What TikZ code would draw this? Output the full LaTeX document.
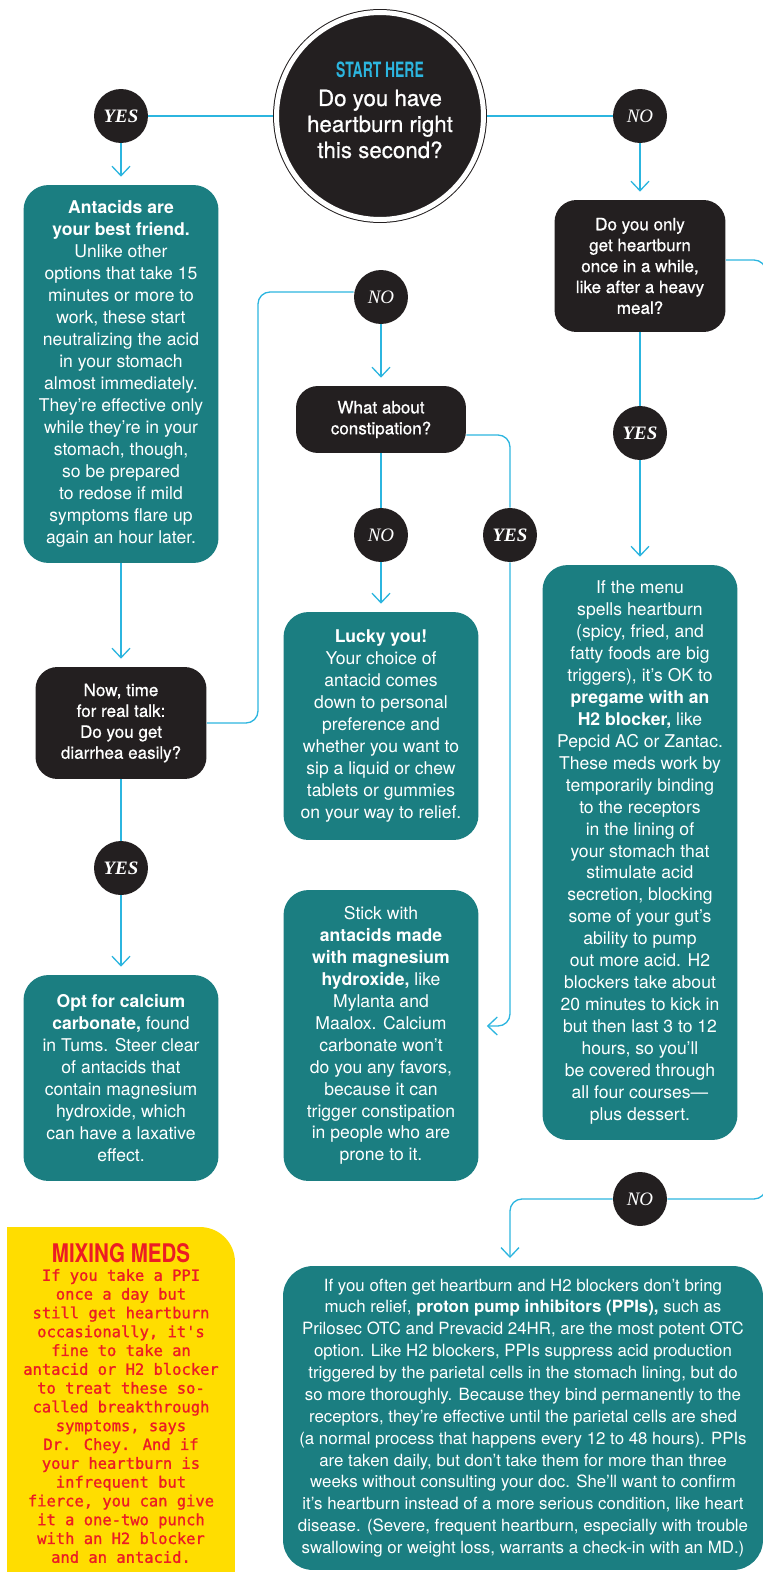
\documentclass[tikz,border=0pt]{standalone}
\usepackage{fontspec}
\setmainfont{TeX Gyre Heros}
\newfontfamily\medfont{TeX Gyre Heros}[FakeBold=0.7]
\newfontfamily\headfont{TeX Gyre Heros}[FakeStretch=0.66]
\newfontfamily\memohead{TeX Gyre Heros}[FakeStretch=0.8]
\newfontfamily\answerfont{Liberation Serif}
\newfontfamily\memofont{DejaVu Sans Mono}[FakeBold=1.2]
\usetikzlibrary{arrows.meta}

\definecolor{boxteal}{HTML}{1B7E81}
\definecolor{ink}{HTML}{231F20}
\definecolor{wire}{HTML}{2CB5DF}
\definecolor{memo}{HTML}{FFDD00}
\definecolor{memored}{HTML}{EC1C24}

\begin{document}
\begin{tikzpicture}[x=0.02cm,y=-0.02cm,
    info/.style={rectangle,rounded corners=0.5cm,fill=boxteal,text=white,
      inner sep=0pt,minimum width=3.9cm,align=center,
      font=\fontsize{10pt}{12.5pt}\selectfont},
    quest/.style={rectangle,rounded corners=0.44cm,fill=ink,text=white,
      inner sep=0pt,minimum width=3.42cm,align=center,
      font=\medfont\fontsize{9.7pt}{11.9pt}\selectfont},
    yesdot/.style={circle,fill=ink,text=white,inner sep=0pt,minimum size=1.08cm,
      font=\answerfont\bfseries\itshape\fontsize{10.8pt}{12pt}\selectfont},
    nodot/.style={yesdot,font=\answerfont\itshape\fontsize{10.8pt}{12pt}\selectfont},
    link/.style={draw=wire,line width=0.75pt},
    go/.style={link,-{Straight Barb[length=0.19cm,width=0.36cm]},shorten >=0.16cm}]

    \useasboundingbox (0,0) rectangle (763,1572);
    \clip (0,0) rectangle (763,1572);

    \node[circle,fill=ink,draw=ink,line width=0.02cm,double=white,double distance=0.1cm,
          minimum size=4.14cm,outer sep=0.07cm] (start) at (380,116) {};
    \node[text=wire,font=\headfont\bfseries\fontsize{12pt}{12pt}\selectfont] (starthead) at (380,70) {START HERE};
    \node[text=white,align=center,font=\medfont\fontsize{12.7pt}{14.8pt}\selectfont] (startq) at (380,124)
         {Do you have\\heartburn right\\this second?};

    \foreach \n/\x/\y in {yes1/121/116,yes2/640/433,yes3/510/535,yes4/121/868}
             {
               \node[yesdot] (\n) at (\x,\y) {YES};
             }
    \foreach \n/\x/\y in {no1/640/116,no2/381/297,no3/381/535,no4/640/1199}
             {
               \node[nodot] (\n) at (\x,\y) {NO};
             }

    \node[quest,minimum height=2.64cm] (onlyq) at (640,266)
         {Do you only\\get heartburn\\once in a while,\\like after a heavy\\meal?};
    \node[quest,minimum width=3.4cm,minimum height=1.34cm] (constq) at (381,419.5)
         {What about\\constipation?};
    \node[quest,minimum height=2.24cm] (nowq) at (121,723)
         {Now, time\\for real talk:\\Do you get\\diarrhea easily?};

    \node[info,minimum height=7.56cm] (antacids) at (121,374)
         {\textbf{Antacids are}\\\textbf{your best friend.}\\Unlike other\\options that take 15\\minutes or more to\\work, these start\\neutralizing the acid\\in your stomach\\almost immediately.\\They’re effective only\\while they’re in your\\stomach, though,\\so be prepared\\to redose if mild\\symptoms flare up\\again an hour later.};
    \node[info,minimum height=11.5cm] (h2box) at (640,852.5)
         {If the menu\\spells heartburn\\(spicy, fried, and\\fatty foods are big\\triggers), it’s OK to\\\textbf{pregame with an}\\\textbf{H2 blocker,} like\\Pepcid AC or Zantac.\\These meds work by\\temporarily binding\\to the receptors\\in the lining of\\your stomach that\\stimulate acid\\secretion, blocking\\some of your gut’s\\ability to pump\\out more acid. H2\\blockers take about\\20 minutes to kick in\\but then last 3 to 12\\hours, so you’ll\\be covered through\\all four courses—\\plus dessert.};
    \node[info,minimum height=4.56cm] (lucky) at (381,726)
         {\textbf{Lucky you!}\\Your choice of\\antacid comes\\down to personal\\preference and\\whether you want to\\sip a liquid or chew\\tablets or gummies\\on your way to relief.};
    \node[info,minimum height=5.82cm] (magnes) at (381,1035.5)
         {Stick with\\\textbf{antacids made}\\\textbf{with magnesium}\\\textbf{hydroxide,} like\\Mylanta and\\Maalox. Calcium\\carbonate won’t\\do you any favors,\\because it can\\trigger constipation\\in people who are\\prone to it.};
    \node[info,minimum height=4.12cm] (calcium) at (121,1078)
         {\textbf{Opt for calcium}\\\textbf{carbonate,} found\\in Tums. Steer clear\\of antacids that\\contain magnesium\\hydroxide, which\\can have a laxative\\effect.};
    \node[info,rounded corners=0.6cm,minimum width=9.6cm,minimum height=6.08cm,
          font=\fontsize{9.6pt}{12.45pt}\selectfont] (ppi) at (523,1418)
         {If you often get heartburn and H2 blockers don’t bring\\much relief, \textbf{proton pump inhibitors (PPIs),} such as\\Prilosec OTC and Prevacid 24HR, are the most potent OTC\\option. Like H2 blockers, PPIs suppress acid production\\triggered by the parietal cells in the stomach lining, but do\\so more thoroughly. Because they bind permanently to the\\receptors, they’re effective until the parietal cells are shed\\(a normal process that happens every 12 to 48 hours). PPIs\\are taken daily, but don’t take them for more than three\\weeks without consulting your doc. She’ll want to confirm\\it’s heartburn instead of a more serious condition, like heart\\disease. (Severe, frequent heartburn, especially with trouble\\swallowing or weight loss, warrants a check-in with an MD.)};

    \node[fill=memo,rounded corners=0.7cm,minimum width=4.56cm,minimum height=8cm,inner sep=0pt] (memo) at (121,1427) {};
    \fill[memo] (7,1227) rectangle (60,1280);
    \node[text=memored,font=\memohead\bfseries\fontsize{14.6pt}{14pt}\selectfont] (memohead) at (121,1253) {MIXING MEDS};
    \node[text=memored,align=center,font=\memofont\fontsize{8.8pt}{10.7pt}\selectfont] (memotext) at (121,1416)
         {If you take a PPI\\once a day but\\still get heartburn\\occasionally, it's\\fine to take an\\antacid or H2 blocker\\to treat these so-\\called breakthrough\\symptoms, says\\Dr. Chey. And if\\your heartburn is\\infrequent but\\fierce, you can give\\it a one-two punch\\with an H2 blocker\\and an antacid.};

    \coordinate (bendA) at (258,292);
    \coordinate (bendB) at (510,1026);
    \coordinate (bendC) at (766,1199);
    \coordinate (ppiin) at (510,1266);

    \draw[link] (yes1) -- (start);
    \draw[link] (start) -- (no1);
    \draw[go] (yes1) -- (antacids);
    \draw[go] (no1) -- (no1 |- onlyq.north);
    \draw[link] (onlyq) -- (yes2);
    \draw[go] (yes2) -- (h2box);
    \draw[go] (antacids) -- (nowq);
    \draw[link] (nowq) -- (yes4);
    \draw[go] (yes4) -- (calcium);
    \draw[link,rounded corners=0.24cm] (nowq.east) -| (bendA) -- (bendA -| no2.west);
    \draw[go] (no2) -- (constq);
    \draw[link] (constq) -- (no3);
    \draw[go] (no3) -- (lucky);
    \draw[link,rounded corners=0.24cm] ([yshift=-0.31cm]constq.east) -| (yes3);
    \draw[go,rounded corners=0.24cm] (yes3) |- (magnes.east |- bendB);
    \draw[link,rounded corners=0.24cm] ([yshift=0.12cm]onlyq.east) -| (bendC) -- (no4);
    \draw[go,rounded corners=0.24cm] (no4) -| (ppiin);
\end{tikzpicture}
\end{document}
